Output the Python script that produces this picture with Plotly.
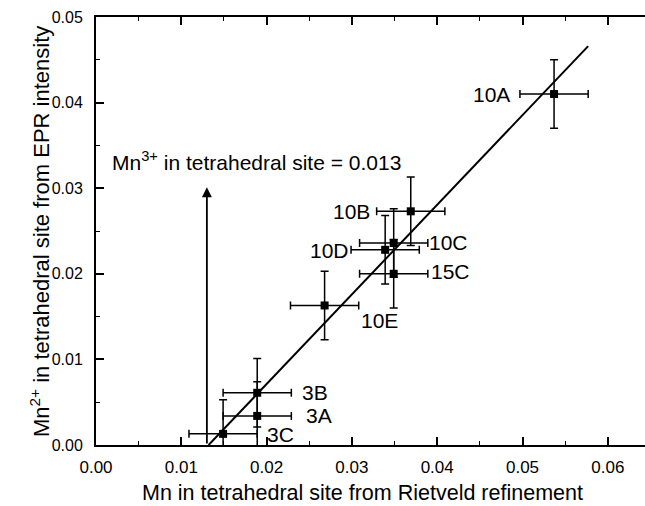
import plotly.graph_objects as go

# Samples: Rietveld Mn (x) vs EPR-derived Mn2+ (y) in tetrahedral sites
samples = ["10A", "10B", "10C", "10D", "15C", "10E", "3B", "3A", "3C"]
mn_rietveld = [0.0537, 0.0369, 0.0349, 0.0339, 0.0349, 0.0268, 0.0189, 0.0189, 0.0149]
mn_epr = [0.0410, 0.0273, 0.0236, 0.0228, 0.0200, 0.0163, 0.0061, 0.0034, 0.0013]
err_rietveld = [0.004, 0.004, 0.004, 0.004, 0.004, 0.004, 0.004, 0.004, 0.004]
err_epr = [0.004, 0.004, 0.004, 0.004, 0.004, 0.004, 0.004, 0.004, 0.004]

# Linear fit end points (x-intercept 0.013)
fit_x = [0.0132, 0.0577]
fit_y = [0.0, 0.0466]

# Mn3+ marker: intercept position and arrow tip height
mn3_x = 0.013
mn3_tip = 0.0301

# Label offsets (px) relative to each sample point
label_dx = [-63, -59, 55, -56, 57, 55, 58, 62, 57]
label_dy = [0, 0, 0, -1, 2, -15, 0, 0, -1]

FONT = "Liberation Sans, Arial, sans-serif"

W, H = 645, 506
ML, MR, MT, MB = 96, 0, 17, 61


def px_to_paper(px, py):
    """Convert figure pixel position to plot-area paper fractions."""
    return (px - ML) / (W - ML - MR), (H - MB - py) / (H - MT - MB)


fig = go.Figure()

fig.add_trace(go.Scatter(
    x=fit_x, y=fit_y, mode="lines",
    line=dict(color="black", width=2),
    showlegend=False, hoverinfo="skip",
))

fig.add_trace(go.Scatter(
    x=mn_rietveld, y=mn_epr, mode="markers",
    marker=dict(symbol="square", size=8, color="black"),
    error_x=dict(type="data", array=err_rietveld, color="black", thickness=1.5, width=4),
    error_y=dict(type="data", array=err_epr, color="black", thickness=1.5, width=4),
    showlegend=False,
))

annotations = []
for name, x, y, dx, dy in zip(samples, mn_rietveld, mn_epr, label_dx, label_dy):
    annotations.append(dict(
        x=x, y=y, xref="x", yref="y", text=name, showarrow=False,
        xanchor="center", yanchor="middle",
        xshift=dx, yshift=dy, font=dict(family=FONT, size=21, color="black"),
    ))

# Vertical arrow at the x-intercept
annotations.append(dict(
    x=mn3_x, y=mn3_tip, ax=mn3_x, ay=0, xref="x", yref="y", axref="x", ayref="y",
    text="", showarrow=True, arrowhead=2, arrowsize=1.1, arrowwidth=1.8,
    arrowcolor="black", standoff=0, startstandoff=0,
))

tx, ty = px_to_paper(110, 161)
annotations.append(dict(
    x=tx, y=ty, xref="paper", yref="paper",
    xanchor="left", yanchor="middle", showarrow=False,
    text="Mn<sup>3+</sup> in tetrahedral site = 0.013",
    font=dict(family=FONT, size=21, color="black"),
))

# Axis titles
tx, ty = px_to_paper(362, 493)
annotations.append(dict(
    x=tx, y=ty, xref="paper", yref="paper", showarrow=False,
    xanchor="center", yanchor="middle",
    text="Mn in tetrahedral site from Rietveld refinement",
    font=dict(family=FONT, size=21.5, color="black"),
))
tx, ty = px_to_paper(40, 232)
annotations.append(dict(
    x=tx, y=ty, xref="paper", yref="paper", showarrow=False, textangle=-90,
    xanchor="center", yanchor="middle",
    text="Mn<sup>2+</sup> in tetrahedral site from EPR intensity",
    font=dict(family=FONT, size=22, color="black"),
))

fig.update_layout(
    width=W, height=H,
    margin=dict(l=ML, r=MR, t=MT, b=MB, pad=0),
    paper_bgcolor="white", plot_bgcolor="white",
    annotations=annotations,
    font=dict(family=FONT, color="black"),
)

fig.update_xaxes(
    range=[0, (W - ML) / 85.3 * 0.01], dtick=0.01, tick0=0, tickformat=".2f",
    showgrid=False, zeroline=False,
    showline=True, linecolor="black", linewidth=2, mirror="ticks",
    ticks="inside", ticklen=8, tickwidth=1.5, tickcolor="black",
    tickfont=dict(family=FONT, size=17, color="black"),
    ticklabelstandoff=6,
    minor=dict(dtick=0.005, ticks="inside", ticklen=4, tickwidth=1.2, tickcolor="black", showgrid=False),
)
fig.update_yaxes(
    range=[0, 0.05], dtick=0.01, tick0=0, tickformat=".2f",
    showgrid=False, zeroline=False,
    showline=True, linecolor="black", linewidth=2,
    ticks="inside", ticklen=8, tickwidth=1.5, tickcolor="black",
    tickfont=dict(family=FONT, size=16, color="black"),
    ticklabelstandoff=8,
    minor=dict(dtick=0.005, ticks="inside", ticklen=4, tickwidth=1.2, tickcolor="black", showgrid=False),
)

fig.write_html("out.html")
